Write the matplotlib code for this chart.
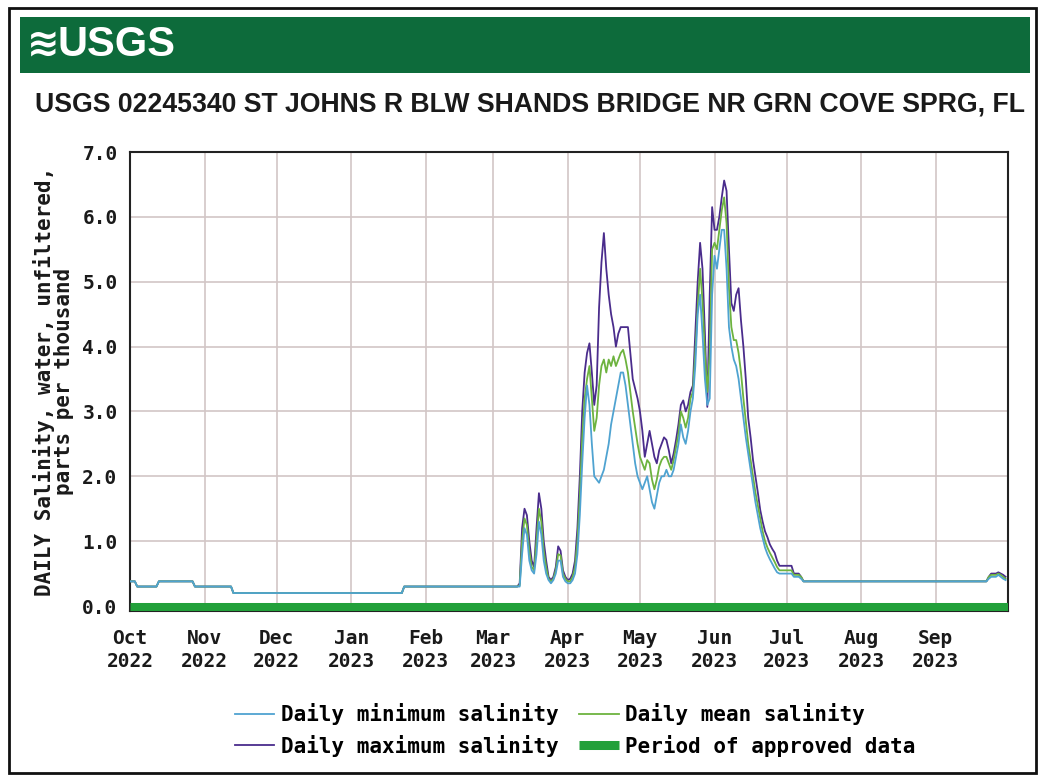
import numpy as np
import pandas as pd
import matplotlib
matplotlib.use('Agg')
import matplotlib.pyplot as plt
from matplotlib.patches import Rectangle

# Quiet periods: the three series sit on top of each other, level changes on these dates
quiet_change_dates = ['2022-10-01', '2022-10-04', '2022-10-13', '2022-10-28',
                      '2022-11-13', '2023-01-23', '2023-07-09']
quiet_levels = [0.38, 0.30, 0.38, 0.30, 0.20, 0.30, 0.38]

# Active period, one value per day from 2023-03-10 to 2023-07-08
active_start = '2023-03-10'
max_active = [
    0.30, 0.30, 0.35, 1.20, 1.50, 1.40, 1.00, 0.70, 0.60, 1.20,
    1.74, 1.50, 1.00, 0.70, 0.45, 0.40, 0.45, 0.60, 0.92, 0.85,
    0.55, 0.45, 0.40, 0.42, 0.50, 0.70, 1.20, 2.00, 3.00, 3.60,
    3.90, 4.05, 3.60, 3.10, 3.40, 4.60, 5.30, 5.75, 5.20, 4.80,
    4.50, 4.30, 4.00, 4.20, 4.30, 4.30, 4.30, 4.30, 3.90, 3.50,
    3.35, 3.20, 3.00, 2.70, 2.30, 2.50, 2.70, 2.50, 2.30, 2.20,
    2.40, 2.50, 2.60, 2.56, 2.40, 2.20, 2.35, 2.56, 2.80, 3.10,
    3.17, 3.00, 3.10, 3.30, 3.40, 4.20, 5.00, 5.60, 5.20, 4.20,
    3.07, 4.80, 6.15, 5.80, 5.80, 6.00, 6.30, 6.56, 6.40, 5.50,
    4.67, 4.55, 4.80, 4.90, 4.40, 4.00, 3.50, 2.90, 2.60, 2.25,
    2.00, 1.75, 1.48, 1.30, 1.15, 1.06, 0.95, 0.88, 0.82, 0.70,
    0.62, 0.62, 0.62, 0.62, 0.62, 0.62, 0.50, 0.50, 0.50, 0.45,
    0.38]
mean_active = [
    0.30, 0.30, 0.32, 1.00, 1.35, 1.25, 0.85, 0.60, 0.55, 1.00,
    1.50, 1.30, 0.85, 0.60, 0.42, 0.38, 0.42, 0.55, 0.80, 0.78,
    0.50, 0.42, 0.38, 0.38, 0.45, 0.60, 1.00, 1.70, 2.60, 3.20,
    3.50, 3.70, 3.20, 2.70, 2.90, 3.40, 3.70, 3.80, 3.60, 3.80,
    3.70, 3.85, 3.70, 3.80, 3.90, 3.95, 3.80, 3.60, 3.30, 3.00,
    2.75, 2.50, 2.30, 2.20, 2.10, 2.25, 2.20, 1.95, 1.80, 1.95,
    2.15, 2.25, 2.30, 2.30, 2.20, 2.10, 2.25, 2.45, 2.65, 3.00,
    2.90, 2.75, 2.90, 3.20, 3.30, 3.90, 4.60, 5.20, 4.70, 3.90,
    3.30, 3.90, 5.50, 5.60, 5.50, 5.80, 6.10, 6.30, 5.90, 4.90,
    4.30, 4.10, 4.10, 3.90, 3.60, 3.20, 2.85, 2.50, 2.25, 2.00,
    1.75, 1.55, 1.35, 1.15, 1.00, 0.90, 0.82, 0.75, 0.68, 0.60,
    0.55, 0.55, 0.55, 0.55, 0.55, 0.55, 0.48, 0.48, 0.48, 0.45,
    0.38]
min_active = [
    0.30, 0.30, 0.30, 0.80, 1.20, 1.10, 0.70, 0.55, 0.50, 0.80,
    1.30, 1.10, 0.70, 0.50, 0.40, 0.35, 0.40, 0.50, 0.70, 0.70,
    0.45, 0.38, 0.35, 0.35, 0.40, 0.50, 0.80, 1.40, 2.20, 2.90,
    3.40, 3.10, 2.50, 2.00, 1.95, 1.90, 2.00, 2.10, 2.30, 2.50,
    2.80, 3.00, 3.20, 3.40, 3.60, 3.60, 3.40, 3.10, 2.80, 2.50,
    2.20, 2.00, 1.90, 1.80, 1.90, 2.00, 1.80, 1.60, 1.50, 1.70,
    1.90, 2.00, 2.00, 2.10, 2.00, 2.00, 2.10, 2.30, 2.50, 2.80,
    2.60, 2.50, 2.70, 3.00, 3.20, 3.70, 4.50, 4.80, 4.20, 3.50,
    3.10, 3.20, 4.80, 5.40, 5.20, 5.50, 5.80, 5.80, 5.20, 4.30,
    4.00, 3.80, 3.70, 3.50, 3.20, 2.90, 2.60, 2.35, 2.10, 1.85,
    1.60, 1.40, 1.20, 1.05, 0.90, 0.80, 0.72, 0.65, 0.58, 0.52,
    0.50, 0.50, 0.50, 0.50, 0.50, 0.50, 0.45, 0.45, 0.45, 0.42,
    0.38]

# Last days of September
tail_start = '2023-09-23'
max_tail = [0.45, 0.50, 0.50, 0.50, 0.52, 0.50, 0.48, 0.45]
mean_tail = [0.45, 0.48, 0.48, 0.48, 0.50, 0.48, 0.45, 0.42]
min_tail = [0.42, 0.45, 0.45, 0.45, 0.48, 0.45, 0.42, 0.40]

month_ticks = pd.date_range('2022-10-01', '2023-09-01', freq='MS')
month_labels = [d.strftime('%b\n%Y') for d in month_ticks]

title = 'USGS 02245340 ST JOHNS R BLW SHANDS BRIDGE NR GRN COVE SPRG, FL'
ylabel = 'DAILY Salinity, water, unfiltered,\nparts per thousand'

# Build daily series
dates = pd.date_range('2022-10-01', '2023-09-30', freq='D')
chg = pd.to_datetime(quiet_change_dates)
base = np.array(quiet_levels)[np.searchsorted(chg, dates, side='right') - 1]


def build(active, tail):
    s = pd.Series(base.copy(), index=dates)
    s.loc[pd.date_range(active_start, periods=len(active))] = active
    s.loc[pd.date_range(tail_start, periods=len(tail))] = tail
    return s


s_max = build(max_active, max_tail)
s_mean = build(mean_active, mean_tail)
s_min = build(min_active, min_tail)

plt.rcParams['font.family'] = 'DejaVu Sans Mono'
plt.rcParams['font.weight'] = 'bold'
plt.rcParams['axes.labelweight'] = 'bold'
fs = 14

fig = plt.figure(figsize=(10.42, 7.79), dpi=100)

# outer frame and banner
fig.patches.append(Rectangle((0.009, 0.008), 0.985, 0.982, transform=fig.transFigure,
                             fill=False, edgecolor='#111111', linewidth=2))
fig.patches.append(Rectangle((20 / 1042, 1 - 73 / 779), 1010 / 1042, 56 / 779,
                             transform=fig.transFigure, facecolor='#0d6b3b', edgecolor='none'))
fig.text(27 / 1042, 1 - 45 / 779, '≋', color='white', fontsize=28, family='DejaVu Sans',
         va='center', ha='left', fontweight='bold')
fig.text(58 / 1042, 1 - 45 / 779, 'USGS', color='white', fontsize=30,
         family='Liberation Sans', fontweight='bold', va='center', ha='left')
fig.text(35 / 1042, 1 - 105 / 779, title, color='#1a1a1a', fontsize=19.2,
         family='Liberation Sans', fontweight='bold', va='center', ha='left')

ax = fig.add_axes([130 / 1042, 1 - 611 / 779, 878 / 1042, 459 / 779])
ax.plot(dates, s_max.values, color='#4a2c8c', linewidth=1.3, label='Daily maximum salinity', zorder=3)
ax.plot(dates, s_mean.values, color='#6db33f', linewidth=1.3, label='Daily mean salinity', zorder=4)
ax.plot(dates, s_min.values, color='#4fa3d1', linewidth=1.3, label='Daily minimum salinity', zorder=5)
ax.plot([dates[0], dates[-1] + pd.Timedelta(days=1)], [-0.01, -0.01], color='#22a03a',
        linewidth=6.5, solid_capstyle='butt', label='Period of approved data', zorder=6)

ax.set_xlim(pd.Timestamp('2022-10-01'), pd.Timestamp('2023-10-01'))
ax.set_ylim(-0.077, 7.0)
ax.set_yticks(np.arange(0, 8, 1.0))
ax.set_yticklabels([f'{v:.1f}' for v in np.arange(0, 8, 1.0)])
ax.set_xticks(month_ticks)
ax.set_xticklabels(month_labels, linespacing=1.25)
ax.tick_params(axis='both', length=0, labelsize=fs, colors='#1a1a1a')
ax.tick_params(axis='y', pad=9)
ax.tick_params(axis='x', pad=13)
ax.grid(True, color='#d2c6c6', linewidth=1.2)
ax.set_axisbelow(True)
for sp in ax.spines.values():
    sp.set_color('#222222')
    sp.set_linewidth(1.5)
ax.set_ylabel(ylabel, fontsize=15, color='#1a1a1a', labelpad=6, linespacing=0.95)

h, l = ax.get_legend_handles_labels()
order = [2, 0, 1, 3]
fig.legend([h[i] for i in order], [l[i] for i in order], ncol=2, frameon=False,
           loc='center', bbox_to_anchor=(575 / 1042, 1 - 730 / 779), fontsize=15,
           handlelength=1.9, columnspacing=1.0, handletextpad=0.3, labelspacing=0.45)

fig.savefig('out.png', dpi=100, facecolor='white')
